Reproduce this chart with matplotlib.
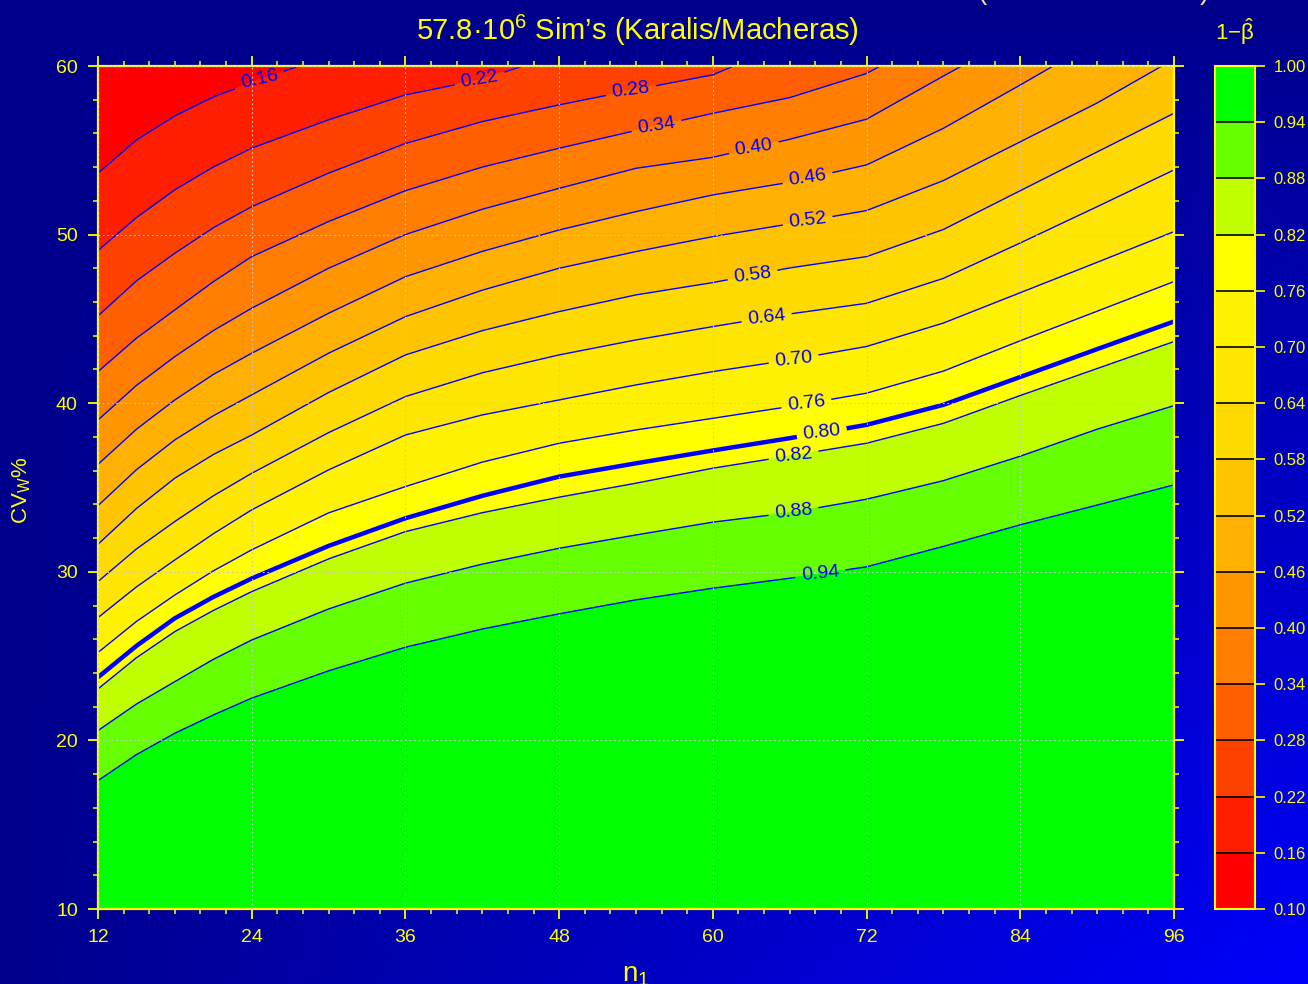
import numpy as np
import matplotlib
matplotlib.use("Agg")
import matplotlib.pyplot as plt
from matplotlib.ticker import MultipleLocator, FormatStrFormatter

plt.rcParams['font.family'] = ['Liberation Sans', 'DejaVu Sans']
plt.rcParams['mathtext.fontset'] = 'custom'
plt.rcParams['mathtext.rm'] = 'Liberation Sans'
plt.rcParams['mathtext.it'] = 'Liberation Sans'
plt.rcParams['mathtext.bf'] = 'Liberation Sans:bold'

# ---------------- data (CV_W% at which power reaches each level) ----------------
n1 = [12, 15, 18, 21, 24, 30, 36, 42, 48, 54, 60, 66, 72, 78, 84, 90, 96]
cv_010 = [61.0, 62.0, 63.0, 64.0, 65.0, 67.0, 69.0, 70.5, 72.0, 74.0, 76.0, 78.0, 80.0, 82.0, 84.0, 86.0, 88.0]
cv_016 = [53.63, 55.6, 57.03, 58.15, 59.01, 60.6, 62.3, 64.0, 65.5, 67.2, 69.0, 70.8, 72.5, 74.2, 76.0, 78.0, 80.0]
cv_022 = [49.05, 51.0, 52.65, 54.0, 55.12, 56.8, 58.28, 59.2, 60.7, 62.0, 63.5, 65.2, 67.0, 69.0, 71.0, 73.0, 75.0]
cv_028 = [45.17, 47.25, 48.89, 50.4, 51.65, 53.64, 55.4, 56.7, 57.69, 58.6, 59.47, 61.4, 63.5, 65.5, 67.5, 70.0, 72.5]
cv_034 = [41.87, 43.85, 45.53, 47.2, 48.69, 50.77, 52.6, 54.0, 55.12, 56.17, 57.19, 58.12, 59.55, 62.0, 64.5, 67.2, 70.0]
cv_040 = [39.0, 41.05, 42.76, 44.3, 45.63, 48.0, 50.0, 51.5, 52.74, 53.93, 54.58, 55.65, 56.84, 59.4, 61.9, 64.6, 67.3]
cv_046 = [36.37, 38.45, 40.19, 41.7, 42.96, 45.33, 47.5, 49.0, 50.27, 51.36, 52.35, 53.1, 54.13, 56.3, 58.87, 61.5, 64.0]
cv_052 = [33.92, 36.05, 37.82, 39.25, 40.49, 42.96, 45.13, 46.7, 48.0, 48.99, 49.88, 50.63, 51.42, 53.2, 55.5, 57.8, 60.4]
cv_058 = [31.63, 33.75, 35.55, 36.95, 38.11, 40.63, 42.86, 44.3, 45.43, 46.42, 47.15, 48.02, 48.69, 50.3, 52.6, 54.9, 57.19]
cv_064 = [29.42, 31.35, 32.98, 34.5, 35.84, 38.25, 40.39, 41.8, 42.86, 43.75, 44.54, 45.29, 45.92, 47.4, 49.5, 51.65, 53.83]
cv_070 = [27.28, 29.1, 30.7, 32.25, 33.67, 36.04, 38.11, 39.3, 40.19, 41.08, 41.87, 42.56, 43.36, 44.75, 46.55, 48.35, 50.17]
cv_076 = [25.21, 27.05, 28.62, 30.05, 31.3, 33.49, 35.05, 36.5, 37.62, 38.41, 39.1, 39.8, 40.59, 41.9, 43.7, 45.45, 47.21]
cv_080 = [23.74, 25.6, 27.24, 28.5, 29.6, 31.53, 33.17, 34.5, 35.64, 36.43, 37.19, 37.92, 38.71, 39.9, 41.55, 43.2, 44.84]
cv_082 = [23.05, 24.9, 26.45, 27.7, 28.82, 30.76, 32.38, 33.5, 34.42, 35.25, 36.14, 36.87, 37.62, 38.8, 40.45, 42.05, 43.65]
cv_088 = [20.58, 22.15, 23.48, 24.8, 25.95, 27.79, 29.32, 30.45, 31.39, 32.18, 32.94, 33.5, 34.3, 35.4, 36.85, 38.45, 39.85]
cv_094 = [17.61, 19.15, 20.42, 21.5, 22.5, 24.12, 25.52, 26.6, 27.5, 28.33, 29.02, 29.61, 30.29, 31.5, 32.78, 33.95, 35.15]
cv_floor = [10.0] * len(n1)

row_levels = [0.10, 0.16, 0.22, 0.28, 0.34, 0.40, 0.46, 0.52, 0.58, 0.64,
              0.70, 0.76, 0.80, 0.82, 0.88, 0.94, 0.995]
rows = [cv_010, cv_016, cv_022, cv_028, cv_034, cv_040, cv_046, cv_052, cv_058,
        cv_064, cv_070, cv_076, cv_080, cv_082, cv_088, cv_094, cv_floor]

fill_levels = [0.10, 0.16, 0.22, 0.28, 0.34, 0.40, 0.46, 0.52, 0.58, 0.64,
               0.70, 0.76, 0.82, 0.88, 0.94, 1.00]
band_colors = ['#ff0000', '#ff1e00', '#ff4100', '#ff5f00', '#ff7d00', '#ff9600',
               '#ffb000', '#ffc400', '#ffda00', '#ffe600', '#fff200', '#ffff00',
               '#c0ff00', '#66ff00', '#00ff00']
line_levels = [0.16, 0.22, 0.28, 0.34, 0.40, 0.46, 0.52, 0.58, 0.64, 0.70, 0.76,
               0.82, 0.88, 0.94]
# n1 at which each contour label sits
label_n1 = {0.16: 24.6, 0.22: 41.8, 0.28: 53.6, 0.34: 55.6, 0.40: 63.2, 0.46: 67.4,
            0.52: 67.4, 0.58: 63.1, 0.64: 64.2, 0.70: 66.3, 0.76: 67.3, 0.80: 68.5,
            0.82: 66.3, 0.88: 66.3, 0.94: 68.4}

title_txt = '57.8\u00b710$^{6}$ Sim\u2019s (Karalis/Macheras)'

# ---------------- figure ----------------
W, H = 1308, 984
fig = plt.figure(figsize=(W / 100, H / 100), dpi=100)
fig.patch.set_facecolor('#00008c')

# background gradient
bg = fig.add_axes([0, 0, 1, 1], zorder=-10)
gx = np.linspace(0, 1, 400)
gy = np.linspace(0, 1, 300)
t = np.outer(gy, gx)
img = np.zeros((300, 400, 3))
img[..., 2] = (140 + 112 * t) / 255.0
bg.imshow(img, extent=[0, 1, 0, 1], aspect='auto', origin='upper', interpolation='bilinear')
bg.set_axis_off()

ax = fig.add_axes([98 / W, 1 - 909 / H, 1076 / W, 843 / H])
ax.set_facecolor('none')

X = np.tile(np.array(n1, float), (len(rows), 1))
Y = np.array(rows, float)
Z = np.array(row_levels)[:, None] + 1e-4 + np.zeros_like(Y)

cf = ax.contourf(X, Y, Z, levels=fill_levels, colors=band_colors)
cs = ax.contour(X, Y, Z, levels=line_levels, colors='#0000ff', linewidths=1.0)
cs80 = ax.contour(X, Y, Z, levels=[0.80], colors='#0000ff', linewidths=3.2)

row_map = dict(zip(row_levels, rows))
pos = [(label_n1[l], float(np.interp(label_n1[l], n1, row_map[l]))) for l in line_levels]
lbls = ax.clabel(cs, line_levels, manual=pos, fmt='%.2f', colors='#0000ff', fontsize=14,
                 inline=True, inline_spacing=6)
lbls80 = ax.clabel(cs80, [0.80],
                   manual=[(label_n1[0.80], float(np.interp(label_n1[0.80], n1, cv_080)))],
                   fmt='%.2f', colors='#0000ff', fontsize=14, inline=True, inline_spacing=6)

ax.set_xlim(12, 96)
ax.set_ylim(10, 60)
ax.set_xticks(range(12, 97, 12))
ax.set_yticks(range(10, 61, 10))
ax.xaxis.set_minor_locator(MultipleLocator(2))
ax.yaxis.set_minor_locator(MultipleLocator(2))
ax.tick_params(which='both', direction='out', colors='yellow', top=True, right=True,
               labeltop=False, labelright=False)
ax.tick_params(which='major', length=7.5, width=1.3, labelsize=14, pad=7)
ax.tick_params(which='minor', length=3.8, width=1.1)
for sp in ax.spines.values():
    sp.set_color('yellow')
    sp.set_linewidth(1.6)
ax.set_axisbelow(False)
ax.grid(which='major', color='#c8c8c8', linestyle=(0, (1.5, 2.5)), linewidth=0.8)

# colorbar
cax = fig.add_axes([1215 / W, 1 - 909 / H, 40 / W, 843 / H])
cb = fig.colorbar(cf, cax=cax, drawedges=True, ticks=fill_levels)
cb.dividers.set_color('black')
cb.dividers.set_linewidth(1.2)
cb.outline.set_edgecolor('yellow')
cb.outline.set_linewidth(1.5)
cax.yaxis.set_major_formatter(FormatStrFormatter('%.2f'))
cax.tick_params(colors='yellow', labelsize=12, length=7.5, width=1.2, direction='out', pad=6)
cb.minorticks_off()

# texts
fig.text(637 / W, 1 - 40 / H, title_txt, ha='center', va='baseline', fontsize=21, color='yellow')
fig.text(1235 / W, 1 - 40 / H, r'1$\mathregular{-}\hat{\beta}$', ha='center', va='baseline',
         fontsize=16, color='yellow')
fig.text(22 / W, 1 - 490 / H, r'CV$_{\mathregular{W}}$%', rotation=90, ha='center', va='center',
         fontsize=16, color='yellow')
fig.text(636 / W, 1 - 981 / H, r'n$_{\mathregular{1}}$', ha='center', va='baseline',
         fontsize=20, color='yellow')
# bottoms of a clipped bracketed caption above the figure edge
fig.text(982 / W, 1 + 1 / H, '(', ha='center', va='baseline', fontsize=20, color='#ffd9a0')
fig.text(1204 / W, 1 + 1 / H, ')', ha='center', va='baseline', fontsize=20, color='#ffd9a0')

fig.savefig('out.png', dpi=100, facecolor=fig.get_facecolor())
